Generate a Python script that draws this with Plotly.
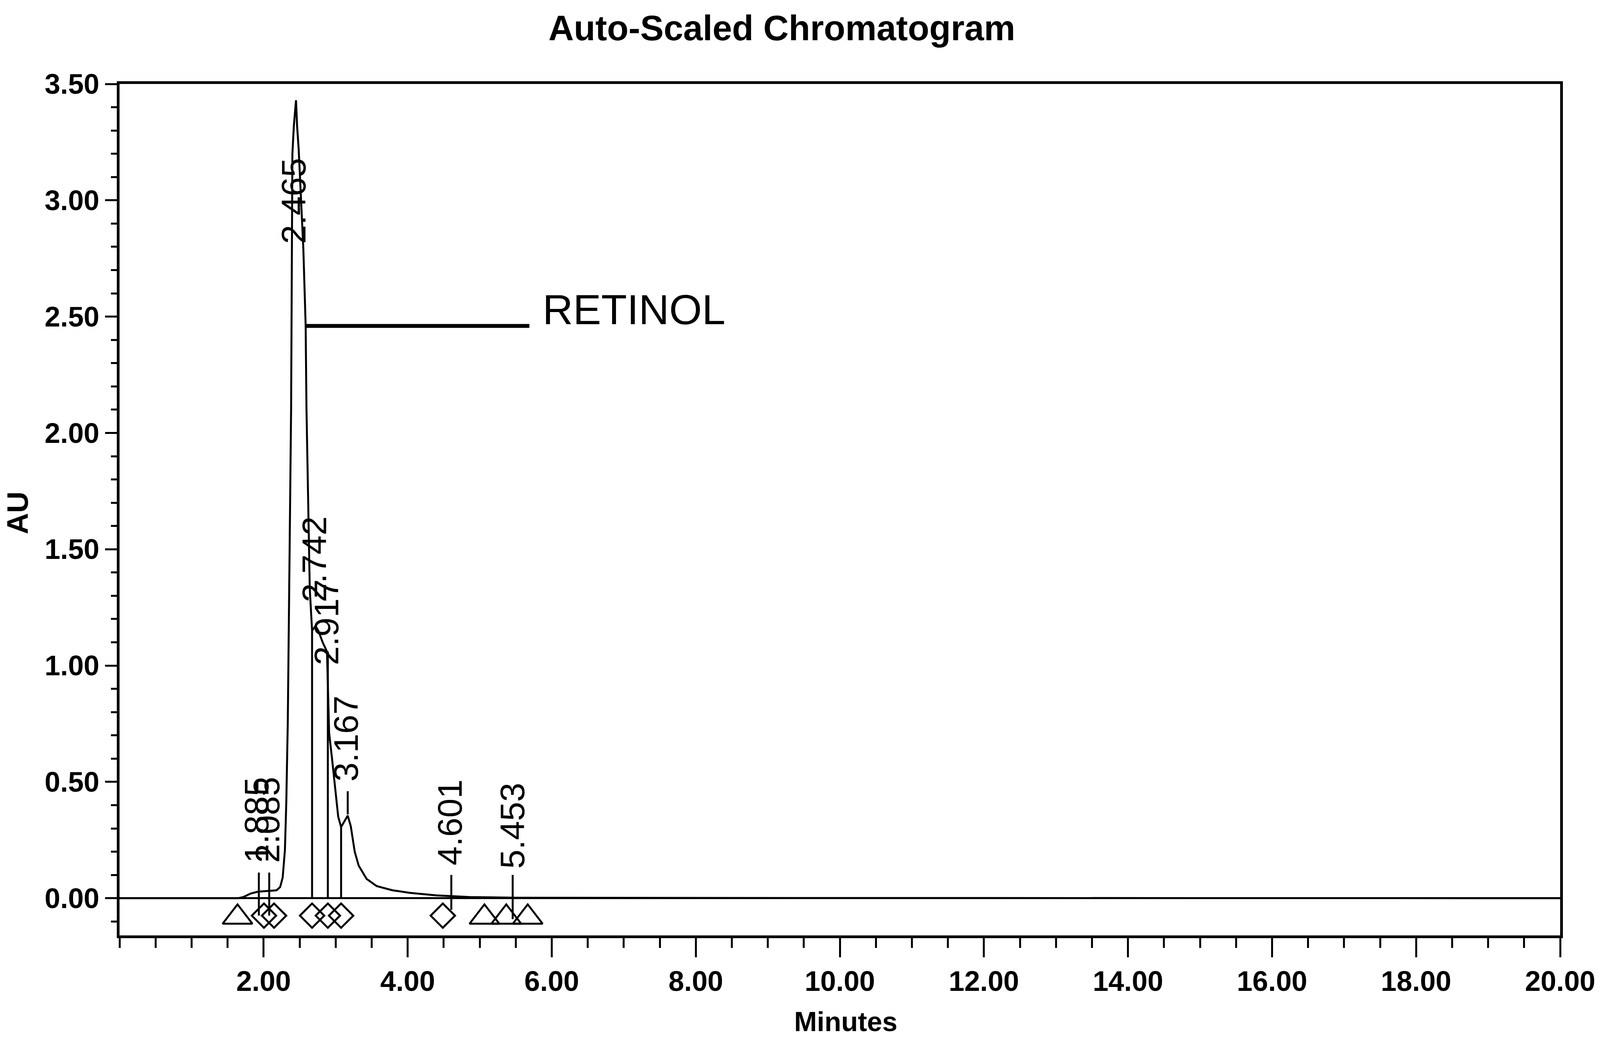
import plotly.graph_objects as go

# ---------------- data ----------------
time_min = [0.0, 1.44, 1.65, 1.72, 1.82, 1.92, 2.06, 2.18, 2.23, 2.265,
            2.296, 2.315, 2.336, 2.382, 2.393, 2.40, 2.42, 2.45, 2.465, 2.487,
            2.552, 2.584, 2.595, 2.612, 2.622, 2.641, 2.673, 2.72, 2.76, 2.82,
            2.88, 2.91, 2.95, 2.987, 3.036, 3.076, 3.12, 3.168, 3.21, 3.265,
            3.32, 3.43, 3.57, 3.79, 4.03, 4.40, 4.86, 5.5, 8.0, 12.0,
            16.0, 20.0]
absorbance = [0.0, 0.0, 0.0, 0.005, 0.02, 0.028, 0.031, 0.034, 0.048, 0.089,
              0.207, 0.41, 0.76, 2.105, 2.79, 3.2, 3.32, 3.43, 3.32, 3.22,
              2.79, 2.46, 2.11, 1.82, 1.68, 1.33, 1.15, 1.17, 1.15, 1.10,
              1.06, 0.71, 0.60, 0.50, 0.35, 0.306, 0.33, 0.355, 0.31, 0.20,
              0.14, 0.083, 0.052, 0.034, 0.023, 0.012, 0.005, 0.002, 0.001, 0.001,
              0.001, 0.0]

# peak labels (retention times), label centre x and label bottom y
peak_labels = ["1.885", "2.085", "2.465", "2.742", "2.917", "3.167", "4.601", "5.453"]
label_x = [1.90, 2.05, 2.418, 2.70, 2.87, 3.146, 4.585, 5.45]
label_y = [0.15, 0.15, 2.81, 1.27, 1.00, 0.50, 0.14, 0.125]

# peak leader ticks
leader_x = [1.934, 2.078, 3.168, 4.606, 5.458]
leader_y0 = [-0.075, -0.075, 0.36, -0.05, -0.09]
leader_y1 = [0.11, 0.11, 0.46, 0.10, 0.10]

# drop lines at peak boundaries
drop_x = [2.673, 2.892, 3.076]
drop_top = [1.15, 1.06, 0.306]

# baseline event markers
triangle_x = [1.638, 5.066, 5.369, 5.667]
diamond_x = [2.005, 2.145, 2.673, 2.892, 3.076, 4.488]

x_ticks = [2, 4, 6, 8, 10, 12, 14, 16, 18, 20]
y_ticks = [0.0, 0.5, 1.0, 1.5, 2.0, 2.5, 3.0, 3.5]

# ---------------- layout geometry ----------------
# reference geometry (px in the 5425 x 2673 reference)
REF_W, REF_H = 5425, 2673
R_ML, R_MR, R_MT, R_MB = 405, 135, 215, 278
# the browser viewport that is photographed is 4096 x 2673 CSS px;
# the figure fills it, horizontal distances scaled accordingly
FW, FH = 4096, 2673
kx = FW / REF_W
ML, MR, MT, MB = R_ML * kx, R_MR * kx, R_MT, R_MB
FONT = "Liberation Sans, Arial, sans-serif"

r_pw = REF_W - R_ML - R_MR
r_ph = REF_H - R_MT - R_MB

fig = go.Figure()

fig.add_trace(go.Scatter(x=time_min, y=absorbance, mode="lines",
                         line=dict(color="black", width=5), showlegend=False,
                         hoverinfo="skip"))

dx, dy = [], []
for xv, top in zip(drop_x, drop_top):
    dx += [xv, xv, None]
    dy += [0.0, top, None]
fig.add_trace(go.Scatter(x=dx, y=dy, mode="lines",
                         line=dict(color="black", width=5), showlegend=False))

lx, ly = [], []
for xv, a, b in zip(leader_x, leader_y0, leader_y1):
    lx += [xv, xv, None]
    ly += [a, b, None]
fig.add_trace(go.Scatter(x=lx, y=ly, mode="lines",
                         line=dict(color="black", width=5), showlegend=False))

fig.add_trace(go.Scatter(x=triangle_x, y=[-0.082] * len(triangle_x), mode="markers",
                         marker=dict(symbol="triangle-up-open", size=66, color="black",
                                     line=dict(color="black", width=5)),
                         showlegend=False))
fig.add_trace(go.Scatter(x=diamond_x, y=[-0.075] * len(diamond_x), mode="markers",
                         marker=dict(symbol="diamond-open", size=48, color="black",
                                     line=dict(color="black", width=5)),
                         showlegend=False))

annotations = []
for t, xv, yv in zip(peak_labels, label_x, label_y):
    annotations.append(dict(x=xv, y=yv, xref="x", yref="y", text=t, textangle=-90,
                            showarrow=False, xanchor="center", yanchor="bottom",
                            borderpad=0,
                            font=dict(family=FONT, size=88, color="black")))

# handwritten note
fig.add_shape(type="line", xref="x", yref="y", x0=2.58, x1=5.69, y0=2.46, y1=2.46,
              line=dict(color="black", width=10))
annotations.append(dict(x=5.86, y=2.53, xref="x", yref="y", text="RETINOL",
                        showarrow=False, xanchor="left", yanchor="middle",
                        font=dict(family=FONT, size=108, color="black")))

annotations.append(dict(x=(2651 - R_ML) / r_pw, y=(REF_H - R_MB - 72) / r_ph,
                        xref="paper", yref="paper",
                        text="Auto-Scaled Chromatogram", showarrow=False,
                        xanchor="center", yanchor="middle",
                        font=dict(family=FONT, size=90, color="black", weight="bold")))
annotations.append(dict(x=(58 - R_ML) / r_pw, y=(REF_H - R_MB - 1313) / r_ph,
                        xref="paper", yref="paper",
                        text="AU", textangle=-90, showarrow=False,
                        xanchor="center", yanchor="middle",
                        font=dict(family=FONT, size=76, color="black", weight="bold")))
annotations.append(dict(x=(2867 - R_ML) / r_pw, y=(REF_H - R_MB - 2616) / r_ph,
                        xref="paper", yref="paper",
                        text="Minutes", showarrow=False,
                        xanchor="center", yanchor="middle",
                        font=dict(family=FONT, size=70, color="black", weight="bold")))

tickfont = dict(family=FONT, size=72, color="black", weight="bold")

fig.update_layout(
    autosize=True,
    margin=dict(l=ML, r=MR, t=MT, b=MB, pad=0),
    paper_bgcolor="white", plot_bgcolor="white",
    showlegend=False,
    annotations=annotations,
    xaxis=dict(range=[0, 20], showgrid=False, zeroline=False,
               showline=True, linecolor="black", linewidth=7, mirror=True,
               tickmode="array", tickvals=x_ticks,
               ticktext=[f"{v:.2f}" for v in x_ticks],
               ticks="outside", ticklen=49, tickwidth=5, tickcolor="black",
               tickfont=tickfont, automargin=False,
               minor=dict(tickmode="linear", tick0=0, dtick=0.5, ticks="outside",
                          ticklen=25, tickwidth=5, tickcolor="black", showgrid=False)),
    yaxis=dict(range=[-0.16, 3.5], showgrid=False,
               zeroline=True, zerolinecolor="black", zerolinewidth=5,
               showline=True, linecolor="black", linewidth=7, mirror=True,
               tickmode="array", tickvals=y_ticks,
               ticktext=[f"{v:.2f}" for v in y_ticks],
               ticks="outside", ticklen=40 * kx, tickwidth=5, tickcolor="black",
               tickfont=tickfont, automargin=False,
               minor=dict(tickmode="linear", tick0=0, dtick=0.1, ticks="outside",
                          ticklen=20 * kx, tickwidth=5, tickcolor="black", showgrid=False)),
)

fig.write_html("out.html", default_width="100vw", default_height="100vh",
               config={"displayModeBar": False},
               post_script="document.body.style.margin='0';document.body.style.overflow='hidden';")
